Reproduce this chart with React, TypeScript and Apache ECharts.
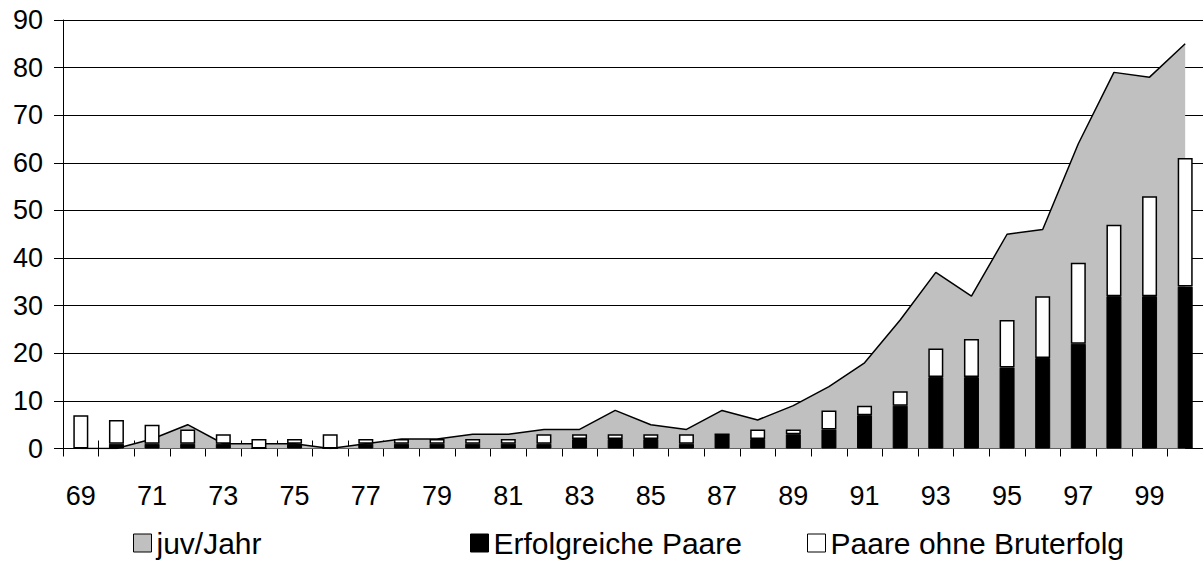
import React, { useEffect, useRef } from "react";
import * as echarts from "echarts";

const years = ["69","70","71","72","73","74","75","76","77","78","79","80","81","82","83","84","85","86","87","88","89","90","91","92","93","94","95","96","97","98","99","00"];
const juvJahr = [0,0,2,5,1,1,1,0,1,2,2,3,3,4,4,8,5,4,8,6,9,13,18,27,37,32,45,46,64,79,78,85];
const erfolgreichePaare = [0,1,1,1,1,0,1,0,1,1,1,1,1,1,2,2,2,1,3,2,3,4,7,9,15,15,17,19,22,32,32,34];
const paareOhneBruterfolg = [7,5,4,3,2,2,1,3,1,1,1,1,1,2,1,1,1,2,0,2,1,4,2,3,6,8,10,13,17,15,21,27];
const yTicks = { min: 0, max: 90, interval: 10 };

const FONT = "'Liberation Sans', Arial, sans-serif";

export default function App() {
  const ref = useRef<HTMLDivElement>(null);
  useEffect(() => {
    if (!ref.current) return;
    const chart = echarts.init(ref.current, null, { renderer: "svg" });
    const legendBase = {
      top: 527,
      padding: 0,
      itemWidth: 18,
      itemHeight: 18,
      textStyle: { fontSize: 30, lineHeight: 32, fontFamily: FONT, color: "#000" },
      selectedMode: false,
    };
    chart.setOption({
      animation: false,
      backgroundColor: "#fff",
      grid: { left: 63, top: 20, right: -2, bottom: 114.5, containLabel: false },
      legend: [
        { ...legendBase, left: 133, data: [{ name: "juv/Jahr", icon: "rect", itemStyle: { color: "#c0c0c0", borderColor: "#000", borderWidth: 1 } }] },
        { ...legendBase, left: 470, data: [{ name: "Erfolgreiche Paare", icon: "rect", itemStyle: { color: "#000", borderColor: "#000", borderWidth: 1 } }] },
        { ...legendBase, left: 807, data: [{ name: "Paare ohne Bruterfolg", icon: "rect", itemStyle: { color: "#fff", borderColor: "#000", borderWidth: 1 } }] },
      ],
      xAxis: [
        {
          type: "category",
          data: years,
          boundaryGap: true,
          axisLine: { show: true, lineStyle: { color: "#000", width: 1 } },
          axisTick: { show: true, length: 8, interval: 0, lineStyle: { color: "#000" } },
          axisLabel: { interval: 1, margin: 34, fontSize: 27, fontFamily: FONT, color: "#000" },
          splitLine: { show: false },
        },
        {
          type: "category",
          data: years,
          position: "bottom",
          boundaryGap: true,
          axisLine: { show: false },
          axisTick: { show: true, inside: true, length: 8, interval: 0, lineStyle: { color: "#000" } },
          axisLabel: { show: false },
          splitLine: { show: false },
        },
      ],
      yAxis: {
        type: "value",
        min: yTicks.min,
        max: yTicks.max,
        interval: yTicks.interval,
        axisLine: { show: true, lineStyle: { color: "#000", width: 1 } },
        axisTick: { show: true, length: 9, lineStyle: { color: "#000" } },
        axisLabel: { margin: 20, fontSize: 27, fontFamily: FONT, color: "#000" },
        splitLine: { show: true, lineStyle: { color: "#000", width: 1 } },
      },
      series: [
        {
          name: "juv/Jahr",
          type: "line",
          data: juvJahr,
          symbol: "none",
          lineStyle: { color: "#000", width: 1.5 },
          itemStyle: { color: "#c0c0c0" },
          areaStyle: { color: "#c0c0c0", opacity: 1 },
          z: 1,
        },
        {
          name: "Erfolgreiche Paare",
          type: "bar",
          stack: "paare",
          data: erfolgreichePaare,
          barWidth: 15,
          itemStyle: { color: "#000", borderColor: "#000", borderWidth: 1 },
          z: 3,
        },
        {
          name: "Paare ohne Bruterfolg",
          type: "bar",
          stack: "paare",
          data: paareOhneBruterfolg,
          barWidth: 15,
          itemStyle: { color: "#fff", borderColor: "#000", borderWidth: 1.5 },
          z: 3,
        },
      ],
    });
    return () => chart.dispose();
  }, []);
  return (
    <div
      ref={ref}
      style={{ position: "fixed", left: 0, top: 0, width: 1203, height: 563, background: "#fff" }}
    />
  );
}
